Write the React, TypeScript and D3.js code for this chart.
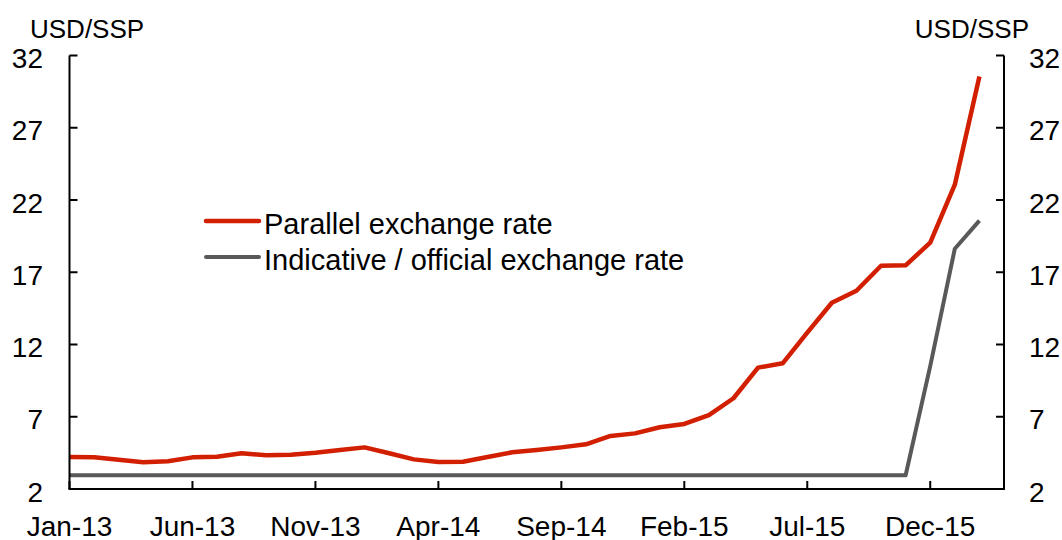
import React from "react";
import * as d3 from "d3";

const months = [
  "Jan-13","Feb-13","Mar-13","Apr-13","May-13","Jun-13","Jul-13","Aug-13","Sep-13","Oct-13","Nov-13","Dec-13",
  "Jan-14","Feb-14","Mar-14","Apr-14","May-14","Jun-14","Jul-14","Aug-14","Sep-14","Oct-14","Nov-14","Dec-14",
  "Jan-15","Feb-15","Mar-15","Apr-15","May-15","Jun-15","Jul-15","Aug-15","Sep-15","Oct-15","Nov-15","Dec-15",
  "Jan-16","Feb-16",
];
const parallelRate = [
  4.22, 4.19, 4.02, 3.85, 3.92, 4.19, 4.23, 4.47, 4.33, 4.37, 4.51, 4.70,
  4.88, 4.47, 4.05, 3.87, 3.89, 4.21, 4.54, 4.70, 4.88, 5.09, 5.67, 5.85,
  6.27, 6.50, 7.12, 8.28, 10.40, 10.70, 12.82, 14.89, 15.72, 17.45, 17.48, 19.05,
  23.06, 30.54,
];
const officialRate = [
  2.95, 2.95, 2.95, 2.95, 2.95, 2.95, 2.95, 2.95, 2.95, 2.95, 2.95, 2.95,
  2.95, 2.95, 2.95, 2.95, 2.95, 2.95, 2.95, 2.95, 2.95, 2.95, 2.95, 2.95,
  2.95, 2.95, 2.95, 2.95, 2.95, 2.95, 2.95, 2.95, 2.95, 2.95, 2.95, 10.5,
  18.63, 20.57,
];
const xTickLabels = ["Jan-13","Jun-13","Nov-13","Apr-14","Sep-14","Feb-15","Jul-15","Dec-15"];
const yTicks = [2, 7, 12, 17, 22, 27, 32];
const seriesNames = ["Parallel exchange rate", "Indicative / official exchange rate"];
const unitLabel = "USD/SSP";

const RED = "#D21F00";
const GRAY = "#595959";
const FONT = "'Liberation Sans', Arial, sans-serif";

export default function App() {
  const W = 1062, H = 540;
  const left = 69.5, right = 1004, top = 55.5, bottom = 489;
  const x = d3.scaleLinear().domain([0, 38]).range([left, right]);
  const y = d3.scaleLinear().domain([2, 32]).range([bottom, top]);
  const line = d3.line<number>().x((_, i) => x(i)).y((d) => y(d));
  const tickIdx = xTickLabels.map((l) => months.indexOf(l));

  return (
    <svg width={W} height={H} style={{ position: "absolute", left: 0, top: 0, background: "#fff" }} fontFamily={FONT}>
      <rect width={W} height={H} fill="#fff" />
      {/* official line */}
      <path d={line(officialRate) || ""} fill="none" stroke={GRAY} strokeWidth={4} strokeLinejoin="round" />
      <path d={line(parallelRate) || ""} fill="none" stroke={RED} strokeWidth={4.5} strokeLinejoin="round" />

      {/* axes */}
      <line x1={left} x2={left} y1={top} y2={bottom} stroke="#000" strokeWidth={2} />
      <line x1={right} x2={right} y1={top} y2={bottom} stroke="#000" strokeWidth={2} />
      <line x1={left - 1} x2={right + 1} y1={bottom} y2={bottom} stroke="#000" strokeWidth={2} />
      {yTicks.map((t) => (
        <g key={"y" + t}>
          <line x1={left} x2={left + 8} y1={y(t)} y2={y(t)} stroke="#000" strokeWidth={2} />
          <line x1={right - 8} x2={right} y1={y(t)} y2={y(t)} stroke="#000" strokeWidth={2} />
          <text x={43} y={y(t) + 12.5} fontSize={28} textAnchor="end" fill="#000">{t}</text>
          <text x={1029} y={y(t) + 12.5} fontSize={28} textAnchor="start" fill="#000">{t}</text>
        </g>
      ))}
      {tickIdx.map((i, k) => (
        <g key={"x" + i}>
          <line x1={x(i)} x2={x(i)} y1={bottom} y2={bottom - 8} stroke="#000" strokeWidth={2} />
          <text x={x(i)} y={536} fontSize={28} textAnchor="middle" fill="#000">{xTickLabels[k]}</text>
        </g>
      ))}
      <text x={30} y={38} fontSize={26} fill="#000">{unitLabel}</text>
      <text x={1029} y={38} fontSize={26} textAnchor="end" fill="#000">{unitLabel}</text>

      {/* legend */}
      <line x1={206} x2={259} y1={221} y2={221} stroke={RED} strokeWidth={4.5} strokeLinecap="round" />
      <text x={264} y={234} fontSize={29} fill="#000">{seriesNames[0]}</text>
      <line x1={206} x2={259} y1={257} y2={257} stroke={GRAY} strokeWidth={4} strokeLinecap="round" />
      <text x={264} y={270} fontSize={29} fill="#000">{seriesNames[1]}</text>
    </svg>
  );
}
